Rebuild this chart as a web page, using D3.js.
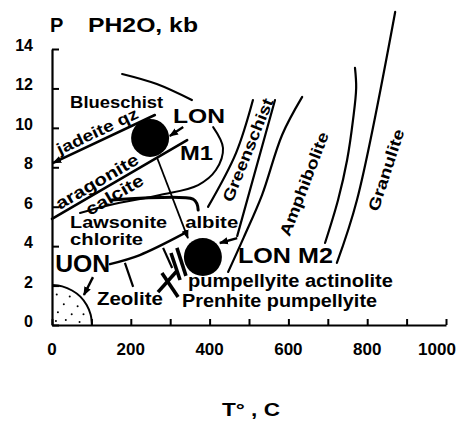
<!DOCTYPE html>
<html><head><meta charset="utf-8">
<script src="https://cdn.jsdelivr.net/npm/d3@7"></script>
<style>
html,body{margin:0;padding:0;background:#fff;}
svg{display:block;}
text{font-family:"Liberation Sans",Arial,Helvetica,sans-serif;font-weight:bold;fill:#000;}
</style></head><body>
<svg id="chart" width="458" height="423"></svg>
<script>
// ---------- data (temperature °C, pressure kb) ----------
const xTickValues = [0,100,200,300,400,500,600,700,800,900,1000];
const xTickLabels = [0,200,400,600,800,1000];
const yTickValues = [0,2,4,6,8,10,12,14];
const xTitle = "T° , C";
const yTitleP = "P";
const yTitleUnit = "PH2O, kb";

const blueschistTop = [[178,12.73],[266,12.22],[355,11.41]];
const jadeiteQz = [[261,10.65],[3,8.22]];
const aragoniteCalcite = [[343,9.38],[0,5.38]];
const lonEnvelope = [[409,10.04],[434,8.98],[416,7.86],[371,7.10],[274,6.59],[147,6.09],[71,5.68]];
const lawsoniteAlbite = [[152,6.34],[358,6.39],[368,6.14],[371,5.83]];
const lawsoniteLower = [[147,3.09],[223,3.55],[333,4.62]];
const zeoliteMarks = [
  [[185,3.15],[206,1.93]],
  [[282,3.91],[305,2.89]]
];
const prehniteMarks = [
  [[269,1.67],[317,2.74]],
  [[279,2.64],[320,1.42]],
  [[302,3.65],[325,2.28]],
  [[317,3.91],[340,2.49]]
];
const greenschistLeft = [[510,11.41],[467,8.72],[396,5.99]];
const greenschistRight = [[566,11.41],[470,4.51]];
const amphiboliteLower = [[635,11.57],[584,9.64],[533,6.59],[487,4.46],[447,2.69]];
const amphiboliteUpper = [[769,13.04],[772,12.02],[764,10.40],[749,8.37],[726,6.34],[693,4.16]];
const granuliteBoundary = [[871,15.88],[774,6.34],[723,3.15]];
const uonBoundary = [[0,2.03],[26,1.96],[51,1.75],[72,1.44],[88,1.01],[98,0.53],[101.5,0]];
const uonDots = [[12,1.55],[45,1.45],[30,1.05],[65,0.95],[15,0.65],[50,0.55],[80,0.55],[10,0.2],[35,0.25],[70,0.15]];
const lonPoints = [{name:"M1",T:249,P:9.49},{name:"M2",T:383,P:3.45}];
const pathArrow = [[266,8.52],[345,4.41]];
const pointerArrows = [
  [[333,10.04],[299,9.59]],
  [[470,4.41],[426,4.16]],
  [[104,2.43],[81,1.52]]
];
const fieldLabels = ["Blueschist","Lawsonite","chlorite","albite","Zeolite","UON","LON","M1","LON M2",
  "pumpellyite actinolite","Prenhite pumpellyite","jadeite qz","aragonite","calcite",
  "Greenschist","Amphibolite","Granulite"];

// ---------- layout ----------
const W = 458, H = 423;
const x = d3.scaleLinear().domain([0,1000]).range([52,446]);
const y = d3.scaleLinear().domain([0,14]).range([325,49]);
const svg = d3.select("#chart");

// label placement (data coords) and type sizes
const labelLayout = {
  "Blueschist":[46,11.0,16,93,0],
  "Lawsonite":[46,4.92,16,97,0],
  "chlorite":[46,4.06,16,73,0],
  "albite":[338,4.92,17,53,0],
  "Zeolite":[114,1.01,18,66,0],
  "UON":[8,2.69,23,55,0],
  "LON":[307,10.25,21,52,0],
  "M1":[325,8.37,20,33,0],
  "LON M2":[472,3.15,22,95,0],
  "pumpellyite actinolite":[345,1.93,18,205,0],
  "Prenhite pumpellyite":[330,0.92,18,195,0],
  "jadeite qz":[20,8.62,16,88,-25.4],
  "aragonite":[20,5.83,17,93,-30.4],
  "calcite":[96,5.53,17,64,-30.2]
};
const rotatedLayout = {
  "Greenschist":[497,8.88,16,110,-68],
  "Amphibolite":[640,7.15,16,110,-69],
  "Granulite":[848,7.86,16,85,-72]
};

// markers
const defs = svg.append("defs");
defs.append("marker").attr("id","ah").attr("viewBox","0 0 10 10")
  .attr("refX",9).attr("refY",5).attr("markerWidth",9).attr("markerHeight",9)
  .attr("markerUnits","userSpaceOnUse").attr("orient","auto")
  .append("path").attr("d","M0,1 L10,5 L0,9 z").attr("fill","#000");

// axes
const gx = svg.append("g").attr("transform",`translate(0,${y(0)})`)
  .call(d3.axisBottom(x).tickValues(xTickValues).tickSizeInner(-6).tickSizeOuter(0).tickFormat(""));
const gy = svg.append("g").attr("transform",`translate(${x(0)},0)`)
  .call(d3.axisLeft(y).tickValues(yTickValues).tickSizeInner(-7).tickSizeOuter(0).tickFormat(""));
[gx,gy].forEach(g=>{
  g.select(".domain").attr("stroke","#000").attr("stroke-width",2.2);
  g.selectAll(".tick line").attr("stroke","#000").attr("stroke-width",2);
});
svg.append("g").selectAll("text").data(xTickLabels).join("text")
  .attr("x",d=>x(d)).attr("y",355).attr("text-anchor","middle")
  .attr("dx",d=>d===1000?-9:0)
  .style("font-size","17px").text(d=>d);
svg.append("g").selectAll("text").data(yTickValues).join("text")
  .attr("x",33).attr("y",d=>y(d)+2).attr("text-anchor","end")
  .style("font-size","16px").text(d=>d);

// titles
svg.append("text").attr("x",50).attr("y",32).style("font-size","20px").text(yTitleP);
svg.append("text").attr("x",88).attr("y",32).style("font-size","20px")
  .attr("textLength",110).attr("lengthAdjust","spacingAndGlyphs").text(yTitleUnit);
svg.append("text").attr("x",222).attr("y",416).style("font-size","19px")
  .attr("xml:space","preserve").attr("textLength",58).attr("lengthAdjust","spacingAndGlyphs").text(xTitle);

// UON field
const lineLin = d3.line().x(d=>x(d[0])).y(d=>y(d[1]));
const lineCurve = d3.line().x(d=>x(d[0])).y(d=>y(d[1])).curve(d3.curveCatmullRom.alpha(0.5));
svg.append("path").attr("d",lineCurve(uonBoundary)).attr("fill","none").attr("stroke","#000").attr("stroke-width",2);
svg.append("g").selectAll("circle").data(uonDots).join("circle")
  .attr("cx",d=>x(d[0])).attr("cy",d=>y(d[1])).attr("r",1).attr("fill","#000");

// boundaries
const curves = [
  [blueschistTop,2.2,lineCurve,false],
  [jadeiteQz,2.6,lineLin,true],
  [aragoniteCalcite,2.6,lineLin,false],
  [lonEnvelope,2,lineCurve,false],
  [lawsoniteAlbite,3,lineCurve,false],
  [lawsoniteLower,2.4,lineCurve,false],
  [greenschistLeft,2.2,lineCurve,false],
  [greenschistRight,2.2,lineLin,false],
  [amphiboliteLower,2.2,lineCurve,false],
  [amphiboliteUpper,2.2,lineCurve,false],
  [granuliteBoundary,2.2,lineCurve,false]
];
curves.forEach(([pts,sw,gen,arrow])=>{
  const p = svg.append("path").attr("d",gen(pts)).attr("fill","none")
    .attr("stroke","#000").attr("stroke-width",sw).attr("stroke-linecap","round");
  if(arrow) p.attr("marker-end","url(#ah)");
});
zeoliteMarks.forEach(pts=>svg.append("path").attr("d",lineLin(pts))
  .attr("stroke","#000").attr("stroke-width",2.2).attr("fill","none"));
prehniteMarks.forEach(pts=>svg.append("path").attr("d",lineLin(pts))
  .attr("stroke","#000").attr("stroke-width",3.6).attr("fill","none"));

// LON points and arrows
svg.append("g").selectAll("circle").data(lonPoints).join("circle")
  .attr("cx",d=>x(d.T)).attr("cy",d=>y(d.P)).attr("r",19).attr("fill","#000");
svg.append("path").attr("d",lineLin(pathArrow)).attr("stroke","#000").attr("stroke-width",1.8)
  .attr("fill","none").attr("marker-end","url(#ah)");
pointerArrows.forEach(pts=>svg.append("path").attr("d",lineLin(pts))
  .attr("stroke","#000").attr("stroke-width",2.4).attr("fill","none").attr("marker-end","url(#ah)"));

// labels
fieldLabels.forEach(name=>{
  if(labelLayout[name]){
    const [t,p,fs,len,rot] = labelLayout[name];
    const px = x(t), py = y(p);
    svg.append("text").attr("x",px).attr("y",py).style("font-size",fs+"px")
      .attr("textLength",len).attr("lengthAdjust","spacingAndGlyphs")
      .attr("transform",rot?`rotate(${rot},${px},${py})`:null).text(name);
  } else if(rotatedLayout[name]){
    const [t,p,fs,len,rot] = rotatedLayout[name];
    const px = x(t), py = y(p);
    svg.append("text").attr("x",px).attr("y",py).style("font-size",fs+"px")
      .attr("text-anchor","middle").attr("dominant-baseline","central")
      .attr("textLength",len).attr("lengthAdjust","spacingAndGlyphs")
      .attr("transform",`rotate(${rot},${px},${py})`).text(name);
  }
});
</script>
</body></html>
